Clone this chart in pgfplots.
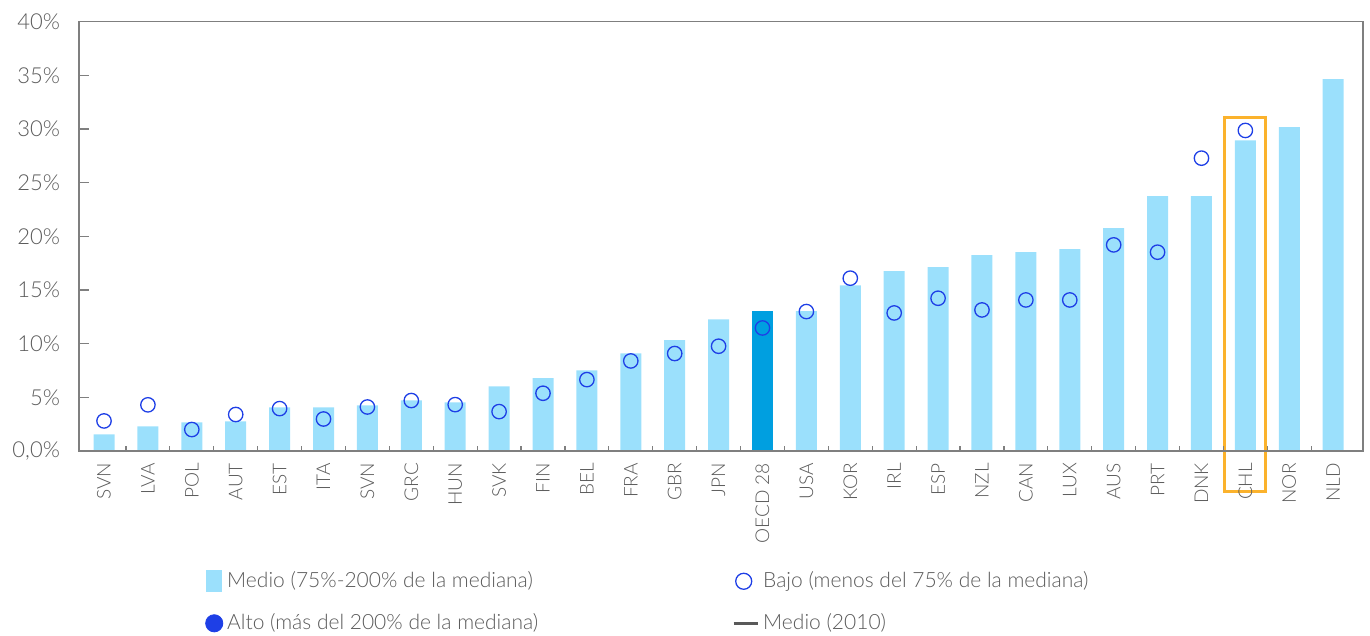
\documentclass[border=0pt]{standalone}
\usepackage{pgfplots}
\pgfplotsset{compat=1.18}
\usepackage{pgfplotstable}
\usepackage{fontspec}
\setmainfont{Lato}[UprightFont=* Light]
\definecolor{barlight}{HTML}{9BE0FC}
\definecolor{bardark}{HTML}{009FE0}
\definecolor{circ}{HTML}{1E3FE6}
\definecolor{orng}{HTML}{FBB22C}
\definecolor{axgray}{HTML}{7F7F7F}
\definecolor{txt}{HTML}{5A5A5A}

\pgfplotstableread{
x y
0 1.56
1 2.30
2 2.67
3 2.77
4 4.07
5 4.07
6 4.26
7 4.72
8 4.54
9 6.03
10 6.78
11 7.52
12 9.10
13 10.32
14 12.27
16 13.02
17 15.44
18 16.75
19 17.12
20 18.24
21 18.52
22 18.80
23 20.75
24 23.74
25 23.74
26 28.94
27 30.17
28 34.64
}\medio

\pgfplotstableread{
x y
15 13.02
}\oecd

\pgfplotstableread{
x y
0 2.80
1 4.30
2 2.00
3 3.40
4 3.95
5 2.98
6 4.10
7 4.70
8 4.32
9 3.67
10 5.38
11 6.65
12 8.39
13 9.08
14 9.76
15 11.46
16 12.99
17 16.10
18 12.86
19 14.23
20 13.14
21 14.07
22 14.07
23 19.20
24 18.52
25 27.28
26 29.86
}\bajo

\begin{document}
\begin{tikzpicture}
\useasboundingbox (-39.5pt,-92.5pt) rectangle (645.5pt,225.5pt);
\begin{axis}[
  at={(0,0)}, anchor=south west,
  scale only axis, width=642pt, height=214.7pt,
  xmin=-0.57, xmax=28.68, ymin=0, ymax=40,
  clip=false, axis on top,
  axis line style={axgray, line width=0.75pt},
  tick align=inside, xtick pos=bottom, ytick pos=left,
  every tick/.style={axgray, line width=0.6pt},
  major tick length=5pt, minor tick length=2.5pt,
  xtick={0,...,28},
  xticklabels={SVN,LVA,POL,AUT,EST,ITA,SVN,GRC,HUN,SVK,FIN,BEL,FRA,GBR,JPN,OECD 28,USA,KOR,IRL,ESP,NZL,CAN,LUX,AUS,PRT,DNK,CHL,NOR,NLD},
  major x tick style={draw=none},
  minor xtick={0.5,1.5,...,27.5},
  xticklabel style={rotate=90, anchor=east, font=\fontsize{9.5}{11}\selectfont, text=txt},
  xticklabel shift=2.5pt,
  ytick={0,5,...,40},
  yticklabels={{0,0\%},5\%,10\%,15\%,20\%,25\%,30\%,35\%,40\%},
  yticklabel style={font=\fontsize{11}{13}\selectfont, text=txt},
  yticklabel shift=6pt,
  legend style={at={(0.098,-0.271)}, anchor=north west, draw=none, fill=none,
    font=\fontsize{10.5}{12.5}\selectfont, text=txt, inner sep=0pt,
    /tikz/every even column/.append style={column sep=95pt},
    row sep=7.5pt},
  legend columns=2,
  legend cell align=left,
]
\addplot[ybar, bar width=10.5pt, bar shift=0pt, fill=barlight, draw=none,
  legend image code/.code={\fill[barlight] (0pt,-5.5pt) rectangle (8pt,5.5pt);}]
  table[x=x,y=y] {\medio};
\addlegendentry{Medio (75\%-200\% de la mediana)}
\addplot[ybar, bar width=10.5pt, bar shift=0pt, fill=bardark, draw=none, forget plot]
  table[x=x,y=y] {\oecd};
\addplot[only marks, mark=o, mark size=3.6pt, mark options={draw=circ, line width=0.65pt, fill=none},
  legend image code/.code={\draw[circ, line width=0.65pt] (4pt,0pt) circle (4pt);}]
  table[x=x,y=y] {\bajo};
\addlegendentry{Bajo (menos del 75\% de la mediana)}
\addlegendimage{legend image code/.code={\fill[circ] (4pt,0pt) circle (4.3pt);}}
\addlegendentry{Alto (más del 200\% de la mediana)}
\addlegendimage{legend image code/.code={\draw[black!65, line width=1.5pt] (-1pt,0pt) -- (11pt,0pt);}}
\addlegendentry{Medio (2010)}
\draw[orng, line width=1.5pt] (axis cs:25.535,31.1) rectangle (axis cs:26.465,-3.75);
\end{axis}
\end{tikzpicture}
\end{document}
